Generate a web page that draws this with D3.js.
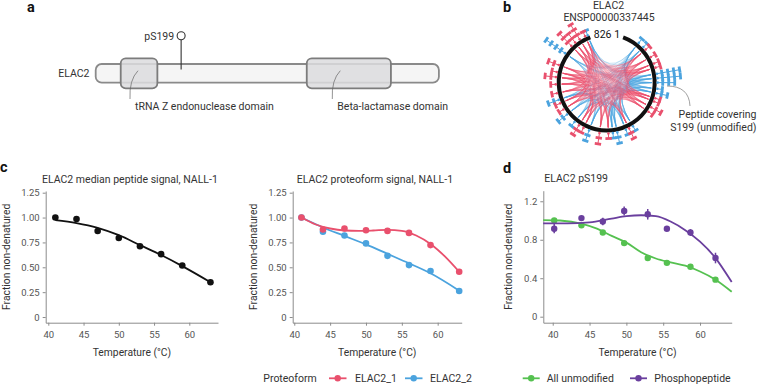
<!DOCTYPE html>
<html><head><meta charset="utf-8">
<script src="https://cdn.jsdelivr.net/npm/d3@7"></script>
<style>body{margin:0;background:#fff}svg{display:block}text{font-family:Roboto,"Noto Sans",sans-serif;fill:#333}</style>
</head><body><svg id="fig" width="757" height="384"></svg>
<script>
// ---------------- data ----------------
// panel c (left): median peptide signal
const temps = [41,44,47,50,53,56,59,63];
const medianSignal = [1.00,0.985,0.865,0.795,0.712,0.632,0.518,0.35];
const medianFitT = [41,44,47,50,53,56,59,63];
const medianFit = [0.975,0.945,0.897,0.823,0.723,0.623,0.512,0.35];
// panel c (right): proteoforms
const proteoforms = ["ELAC2_1","ELAC2_2"];
const elac2_1 = [1.00,0.88,0.89,0.873,0.866,0.846,0.723,0.455];
const elac2_2 = [1.00,0.857,0.82,0.74,0.615,0.522,0.462,0.261];
const fit1T = [41,43,45,47,49,51,53,55,57,59,61,63];
const fit1 = [1.0,0.93,0.89,0.87,0.866,0.87,0.877,0.867,0.82,0.735,0.61,0.455];
const fit2T = [41,44,47,50,53,56,59,63];
const fit2 = [1.0,0.9,0.815,0.73,0.635,0.54,0.44,0.265];
// panel d
const dSeries = ["All unmodified","Phosphopeptide"];
const dTemps = [40.2,43.9,46.8,49.7,52.9,55.5,58.7,62.1];
const unmod = [1.0,0.95,0.875,0.765,0.61,0.56,0.52,0.385];
const unmodErr = [0.012,0.012,0.01,0.012,0.012,0.012,0.01,0.012];
const phospho = [0.915,1.025,0.99,1.1,1.065,0.915,0.875,0.61];
const phosphoErr = [0.048,0.02,0.04,0.047,0.055,0.024,0.035,0.055];
const unmodFitT = [38.7,41,44,46,48,50,52,54,56,58,60,62,64.3];
const unmodFit = [1.005,1.0,0.965,0.915,0.84,0.77,0.67,0.605,0.565,0.53,0.47,0.39,0.26];
const phosFitT = [38.7,42,45,48,50,52,54,56,58,60,62,64.3];
const phosFit = [0.97,0.97,0.98,1.02,1.045,1.055,1.045,0.99,0.9,0.78,0.62,0.36];
// ticks
const xTicks = [40,45,50,55,60];
const yTicksC = [0,0.25,0.5,0.75,1.0,1.25];
const yTicksD = [0,0.4,0.8,1.2];
// panel a
const proteinName = "ELAC2";
const proteinId = "ENSP00000337445";
const proteinLength = 826;
const domainNames = ["tRNA Z endonuclease domain","Beta-lactamase domain"];
const domainStart = [49,511];
const domainEnd = [140,720];
const siteName = "pS199";
const sitePos = 199;
// panel b: peptides (residue position, proteoform group, stacked count)
const pepPos   = [49,67,155,168,181,199,212,333,356,382,395,465,514,545,594,736,821,
                  77,103,124,137,227,237,256,271,346,408,434,483,498,563,583,614,640,661,676,697,764,779,795,813];
const pepGroup = [2,2,2,2,2,2,2,2,2,2,2,2,2,2,2,2,2,
                  1,1,1,1,1,1,1,1,1,1,1,1,1,1,1,1,1,1,1,1,1,1,1,1];
const pepStack = [1,1,4,4,3,1,2,1,1,2,1,2,1,2,2,4,1,
                  1,1,1,1,1,1,2,1,2,1,2,1,2,1,1,1,1,2,1,2,3,2,3,1];

// ---------------- drawing ----------------
const svg = d3.select("#fig");
const RED = "#e9506d", BLUE = "#4ba3de", GREEN = "#55c150", PURPLE = "#6a3f9e";
const AX = "#8c8c8c";

function label(t, x, y){ svg.append("text").attr("x",x).attr("y",y).text(t)
  .style("font-weight","bold").style("font-size","14.5px").style("fill","#111"); }
label("a",27,12); label("b",503,12); label("c",0,172); label("d",503,173);

// ---- panel a ----
const xa = d3.scaleLinear([0,proteinLength],[101,433.6]);
const ga = svg.append("g");
ga.append("rect").attr("x",xa(0)-5.3).attr("y",64).attr("width",xa(proteinLength)-xa(0)+10.6).attr("height",18.7)
  .attr("rx",6).attr("fill","#f5f5f5").attr("stroke","#8a8a8a").attr("stroke-width",1.8);
domainNames.forEach((n,i)=>{
  ga.append("rect").attr("x",xa(domainStart[i])).attr("y",58.3).attr("width",xa(domainEnd[i])-xa(domainStart[i]))
    .attr("height",30).attr("rx",5).attr("fill","#dcdcde").attr("fill-opacity",0.85).attr("stroke","#7c7c7c").attr("stroke-width",1.8);
});
const lx = [135,337.3];
domainNames.forEach((n,i)=>{
  const sx = lx[i]+3;
  ga.append("path").attr("d",`M${sx},70.7 Q${sx-9},80 ${sx-8},99`).attr("fill","none").attr("stroke","#666").attr("stroke-width",0.7);
  ga.append("text").attr("x",lx[i]).attr("y",109.8).text(n).style("font-size","10.5px");
});
ga.append("line").attr("x1",xa(sitePos)).attr("x2",xa(sitePos)).attr("y1",39.7).attr("y2",69.5).attr("stroke","#333").attr("stroke-width",1.1);
ga.append("circle").attr("cx",xa(sitePos)).attr("cy",35.7).attr("r",4).attr("fill","#fff").attr("stroke","#333").attr("stroke-width",1.1);
ga.append("text").attr("x",xa(sitePos)-7).attr("y",39.5).attr("text-anchor","end").text(siteName).style("font-size","10.5px");
ga.append("text").attr("x",89.5).attr("y",77).attr("text-anchor","end").text(proteinName).style("font-size","10.5px");

// ---- panel b ----
const cx = 606.7, cy = 82.5, R = 48;
const ang = d3.scaleLinear([0,proteinLength],[20*Math.PI/180, 340*Math.PI/180]);
const pt = (a,r)=>[cx + r*Math.sin(a), cy - r*Math.cos(a)];
const gb = svg.append("g");
svg.append("text").attr("x",608.5).attr("y",9.3).attr("text-anchor","middle").text(proteinName).style("font-size","10.5px");
svg.append("text").attr("x",609).attr("y",20.8).attr("text-anchor","middle").text(proteinId).style("font-size","10.5px");
// chords
const chordG = gb.append("g");
[2,1].forEach(g=>{
  const idx = pepPos.map((p,i)=>i).filter(i=>pepGroup[i]===g);
  for(let a=0;a<idx.length;a++) for(let b=a+1;b<idx.length;b++){
    const p1 = pt(ang(pepPos[idx[a]]),R-3), p2 = pt(ang(pepPos[idx[b]]),R-3);
    chordG.append("path").attr("d",`M${p1[0]},${p1[1]} Q${cx},${cy} ${p2[0]},${p2[1]}`)
      .attr("fill","none").attr("stroke", g===1?RED:BLUE).attr("stroke-opacity", g===1?0.26:0.32).attr("stroke-width",0.8);
  }
});
// ring
gb.append("path").attr("transform",`translate(${cx},${cy})`)
  .attr("d", d3.arc()({innerRadius:R-2, outerRadius:R+2, startAngle:ang(0), endAngle:ang(proteinLength)})).attr("fill","#111");
// peptides
pepPos.forEach((p,i)=>{
  const a = ang(p), col = pepGroup[i]===1?RED:BLUE, n = pepStack[i];
  const rEnd = 56 + 6*(n-1);
  const s = pt(a,R+2.5), e = pt(a,rEnd);
  gb.append("line").attr("x1",s[0]).attr("y1",s[1]).attr("x2",e[0]).attr("y2",e[1]).attr("stroke",col).attr("stroke-width",1);
  gb.append("circle").attr("cx",pt(a,R+3)[0]).attr("cy",pt(a,R+3)[1]).attr("r",1.3).attr("fill",col);
  for(let k=0;k<n;k++){
    const r = 56 + 6*k, c = pt(a,r);
    const tx = Math.cos(a)*3.2, ty = Math.sin(a)*3.2;
    gb.append("line").attr("x1",c[0]-tx).attr("y1",c[1]-ty).attr("x2",c[0]+tx).attr("y2",c[1]+ty)
      .attr("stroke",col).attr("stroke-width",2.8);
  }
});
const e826 = pt(ang(proteinLength),R), e1 = pt(ang(0),R);
svg.append("text").attr("x",e826[0]+3.5).attr("y",e826[1]+1).text(String(proteinLength)).style("font-size","10.5px").style("fill","#111");
svg.append("text").attr("x",e1[0]-3).attr("y",e1[1]+1).attr("text-anchor","end").text("1").style("font-size","10.5px").style("fill","#111");
svg.append("path").attr("d","M667,86 Q689,86 690,106").attr("fill","none").attr("stroke","#777").attr("stroke-width",0.7);
svg.append("text").attr("x",756.5).attr("y",118).attr("text-anchor","end").text("Peptide covering").style("font-size","10.5px");
svg.append("text").attr("x",756.5).attr("y",131).attr("text-anchor","end").text("S199 (unmodified)").style("font-size","10.5px");

// ---- axes helper ----
function axes(x, y, yTicks, fmt, ytX, title, titleX, titleY){
  const g = svg.append("g");
  const xb = g.append("g").attr("transform",`translate(0,${y.range()[0]})`)
    .call(d3.axisBottom(x).tickValues(xTicks).tickSize(3).tickPadding(6).tickSizeOuter(0));
  const yl = g.append("g").attr("transform",`translate(${x.range()[0]},0)`)
    .call(d3.axisLeft(y).tickValues(yTicks).tickFormat(fmt).tickSize(3).tickPadding(3).tickSizeOuter(0));
  [xb,yl].forEach(a=>{
    a.select(".domain").attr("stroke",AX);
    a.selectAll(".tick line").attr("stroke",AX);
    a.selectAll(".tick text").style("font-size","9.5px").style("fill","#555").style("font-family","Roboto,'Noto Sans',sans-serif");
  });
  const xm = (x.range()[0]+x.range()[1])/2;
  g.append("text").attr("x",xm).attr("y",355.5).attr("text-anchor","middle").text("Temperature (°C)").style("font-size","10.3px");
  const ym = (y.range()[0]+y.range()[1])/2;
  g.append("text").attr("transform",`translate(${ytX},${ym}) rotate(-90)`).attr("dy","0.35em").attr("text-anchor","middle")
    .text("Fraction non-denatured").style("font-size","10.3px");
  g.append("text").attr("x",titleX).attr("y",titleY).text(title).style("font-size","10.5px");
  return g;
}
const fmtC = d=> d===0 ? "0" : d3.format(".2f")(d);
const fmtD = d=> d===0 ? "0" : d3.format(".1f")(d);
const line = (x,y)=>d3.line().x(d=>x(d[0])).y(d=>y(d[1])).curve(d3.curveMonotoneX);
const zip = (a,b)=>a.map((v,i)=>[v,b[i]]);

// ---- panel c left ----
const xL = d3.scaleLinear([39.63,64.07],[45.7,218]);
const yC = d3.scaleLinear([-0.057,1.267],[322.7,191]);
axes(xL, yC, yTicksC, fmtC, 6.7, "ELAC2 median peptide signal, NALL-1", 42, 182.7);
svg.append("path").attr("d", line(xL,yC)(zip(medianFitT,medianFit))).attr("fill","none").attr("stroke","#111").attr("stroke-width",1.8);
svg.selectAll(null).data(zip(temps,medianSignal)).join("circle").attr("cx",d=>xL(d[0])).attr("cy",d=>yC(d[1])).attr("r",3.3).attr("fill","#111");

// ---- panel c right ----
const xR = d3.scaleLinear([39.78,63.35],[292.7,461.7]);
axes(xR, yC, yTicksC, fmtC, 253.3, "ELAC2 proteoform signal, NALL-1", 296.7, 182.7);
[[fit2T,fit2,elac2_2,BLUE],[fit1T,fit1,elac2_1,RED]].forEach(([ft,fv,pv,col])=>{
  svg.append("path").attr("d", line(xR,yC)(zip(ft,fv))).attr("fill","none").attr("stroke",col).attr("stroke-width",1.8);
  svg.selectAll(null).data(zip(temps,pv)).join("circle").attr("cx",d=>xR(d[0])).attr("cy",d=>yC(d[1])).attr("r",3.3).attr("fill",col);
});
// legend c
svg.append("text").attr("x",263.3).attr("y",382).text("Proteoform").style("font-size","10.5px");
[[RED,329,proteoforms[0],355],[BLUE,405,proteoforms[1],430]].forEach(([col,lx0,t,tx])=>{
  svg.append("line").attr("x1",lx0).attr("x2",lx0+17.5).attr("y1",378.3).attr("y2",378.3).attr("stroke",col).attr("stroke-width",1.8);
  svg.append("circle").attr("cx",lx0+8.7).attr("cy",378.3).attr("r",3.2).attr("fill",col);
  svg.append("text").attr("x",tx).attr("y",382).text(t).style("font-size","10.5px");
});

// ---- panel d ----
const xD = d3.scaleLinear([38.72,64.3],[543.3,731.7]);
const yD = d3.scaleLinear([-0.0624,1.31],[322.7,190.7]);
axes(xD, yD, yTicksD, fmtD, 508.3, "ELAC2 pS199", 544.3, 181.5);
[[unmodFitT,unmodFit,unmod,unmodErr,GREEN],[phosFitT,phosFit,phospho,phosphoErr,PURPLE]].forEach(([ft,fv,pv,pe,col])=>{
  svg.append("path").attr("d", line(xD,yD)(zip(ft,fv))).attr("fill","none").attr("stroke",col).attr("stroke-width",1.8);
  const pts = dTemps.map((t,i)=>({t,v:pv[i],e:pe[i]}));
  svg.selectAll(null).data(pts).join("line").attr("x1",d=>xD(d.t)).attr("x2",d=>xD(d.t))
    .attr("y1",d=>yD(d.v-d.e)).attr("y2",d=>yD(d.v+d.e)).attr("stroke",col).attr("stroke-width",1.5);
  svg.selectAll(null).data(pts).join("circle").attr("cx",d=>xD(d.t)).attr("cy",d=>yD(d.v)).attr("r",3.2).attr("fill",col);
});
// legend d
[[GREEN,522.7,dSeries[0],546.7],[PURPLE,630,dSeries[1],654.3]].forEach(([col,lx0,t,tx])=>{
  svg.append("line").attr("x1",lx0).attr("x2",lx0+17).attr("y1",378.3).attr("y2",378.3).attr("stroke",col).attr("stroke-width",1.8);
  svg.append("circle").attr("cx",lx0+8.5).attr("cy",378.3).attr("r",3.2).attr("fill",col);
  svg.append("text").attr("x",tx).attr("y",382).text(t).style("font-size","10.5px");
});
</script></body></html>
